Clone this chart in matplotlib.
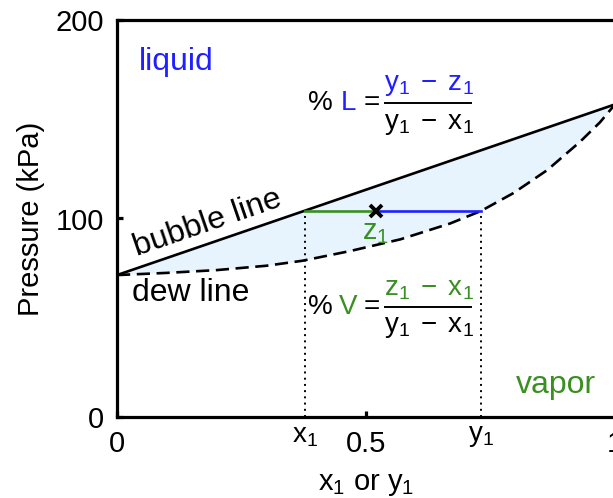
import matplotlib
matplotlib.use('Agg')
import matplotlib.pyplot as plt
import numpy as np

plt.rcParams['font.family'] = ['Liberation Sans', 'DejaVu Sans']
plt.rcParams['mathtext.fontset'] = 'custom'
plt.rcParams['mathtext.rm'] = 'Liberation Sans'
plt.rcParams['mathtext.it'] = 'Liberation Sans'

# Bubble line (straight, Raoult's law) end points: mole fraction vs pressure (kPa)
bubble_x = [0.0, 1.0]
bubble_p = [71.5, 157.5]

# Dew line points
dew_y = [0.0, 0.1, 0.2, 0.3, 0.372, 0.468, 0.569, 0.669, 0.731, 0.796, 0.864, 0.93, 0.97, 1.0]
dew_p = [71.5, 72.6, 74.0, 76.2, 78.7, 83.6, 89.5, 97.5, 103.8, 112.8, 124.4, 138.7, 148.5, 157.5]

# Tie line at the flash pressure
x1_val = 0.377
z1_val = 0.52
y1_val = 0.731
p_tie = 103.8

x_ticks = [0, 0.5, 1]
x_tick_labels = ['0', '0.5', '1']
y_ticks = [0, 100, 200]
y_tick_labels = ['0', '100', '200']

BLUE = '#1f1fff'
GREEN = '#3a8f22'
FILL = '#e8f4fd'

W, H = 613, 498
fig = plt.figure(figsize=(W / 100, H / 100), dpi=100)
ax = fig.add_axes([117 / W, 81 / H, (615 - 117) / W, 397 / H])
ax.set_xlim(0, 1)
ax.set_ylim(0, 200)

# two-phase region
poly_x = np.concatenate([bubble_x, dew_y[::-1]])
poly_p = np.concatenate([bubble_p, dew_p[::-1]])
ax.fill(poly_x, poly_p, color=FILL, zorder=1, lw=0)

ax.plot(bubble_x, bubble_p, color='black', lw=1.9, zorder=3)
ax.plot(dew_y, dew_p, color='black', lw=1.9, ls=(0, (5, 2.5)), zorder=3)

# tie line
ax.plot([x1_val, z1_val], [p_tie, p_tie], color=GREEN, lw=1.9, zorder=4)
ax.plot([z1_val, y1_val], [p_tie, p_tie], color=BLUE, lw=1.9, zorder=4)
ax.plot([z1_val], [p_tie], marker='x', ms=9, mew=2.8, color='black', zorder=6)
for xv in (x1_val, y1_val):
    ax.plot([xv, xv], [0, p_tie], color='black', lw=1.4, ls=(0, (1, 2.2)), zorder=2)

for s in ax.spines.values():
    s.set_linewidth(2.3)
ax.set_xticks(x_ticks)
ax.set_xticklabels(x_tick_labels)
ax.set_yticks(y_ticks)
ax.set_yticklabels(y_tick_labels)
ax.tick_params(direction='in', length=4, width=2.3, labelsize=21)
ax.tick_params(axis='x', pad=9)
ax.tick_params(axis='y', pad=9)

for xv, lab in ((x1_val, r'$\mathregular{x_1}$'), (y1_val, r'$\mathregular{y_1}$')):
    ax.annotate(lab, xy=(xv, 0), xycoords=('data', 'axes fraction'),
                xytext=(0, -4), textcoords='offset points',
                ha='center', va='top', fontsize=20)

ax.set_xlabel(r'$\mathregular{x_1}$ or $\mathregular{y_1}$', fontsize=21, labelpad=9)
ax.set_ylabel('Pressure (kPa)', fontsize=21, labelpad=8)

fs = 23
ax.text(0.043, 178.8, 'liquid', color=BLUE, fontsize=fs, va='center', ha='left')
ax.text(0.801, 16.1, 'vapor', color=GREEN, fontsize=fs, va='center', ha='left')
ax.text(0.182, 97.8, 'bubble line', fontsize=fs, va='center', ha='center',
        rotation=19, rotation_mode='anchor')
ax.text(0.030, 62.5, 'dew line', fontsize=fs, va='center', ha='left')
ax.text(0.519, 93.0, r'$\mathregular{z_1}$', color=GREEN, fontsize=21,
        va='center', ha='center', zorder=7)

ffs = 20
def fraction(p_center, letter, letter_color, numer, numer_color, denom):
    ax.text(0.409, p_center, '%', fontsize=ffs, va='center', ha='center')
    ax.text(0.464, p_center, letter, color=letter_color, fontsize=ffs, va='center', ha='center')
    ax.text(0.512, p_center, '=', fontsize=ffs, va='center', ha='center')
    ax.plot([0.539, 0.711], [p_center, p_center], color='black', lw=1.4, zorder=5)
    ax.text(0.627, p_center + 9.0, numer, color=numer_color, fontsize=ffs,
            va='center', ha='center')
    ax.text(0.627, p_center - 10.5, denom, fontsize=ffs, va='center', ha='center')

fraction(158.3, 'L', BLUE, r'$\mathregular{y_1\;-\;z_1}$', BLUE, r'$\mathregular{y_1\;-\;x_1}$')
fraction(55.6, 'V', GREEN, r'$\mathregular{z_1\;-\;x_1}$', GREEN, r'$\mathregular{y_1\;-\;x_1}$')

fig.savefig('out.png', dpi=100)
